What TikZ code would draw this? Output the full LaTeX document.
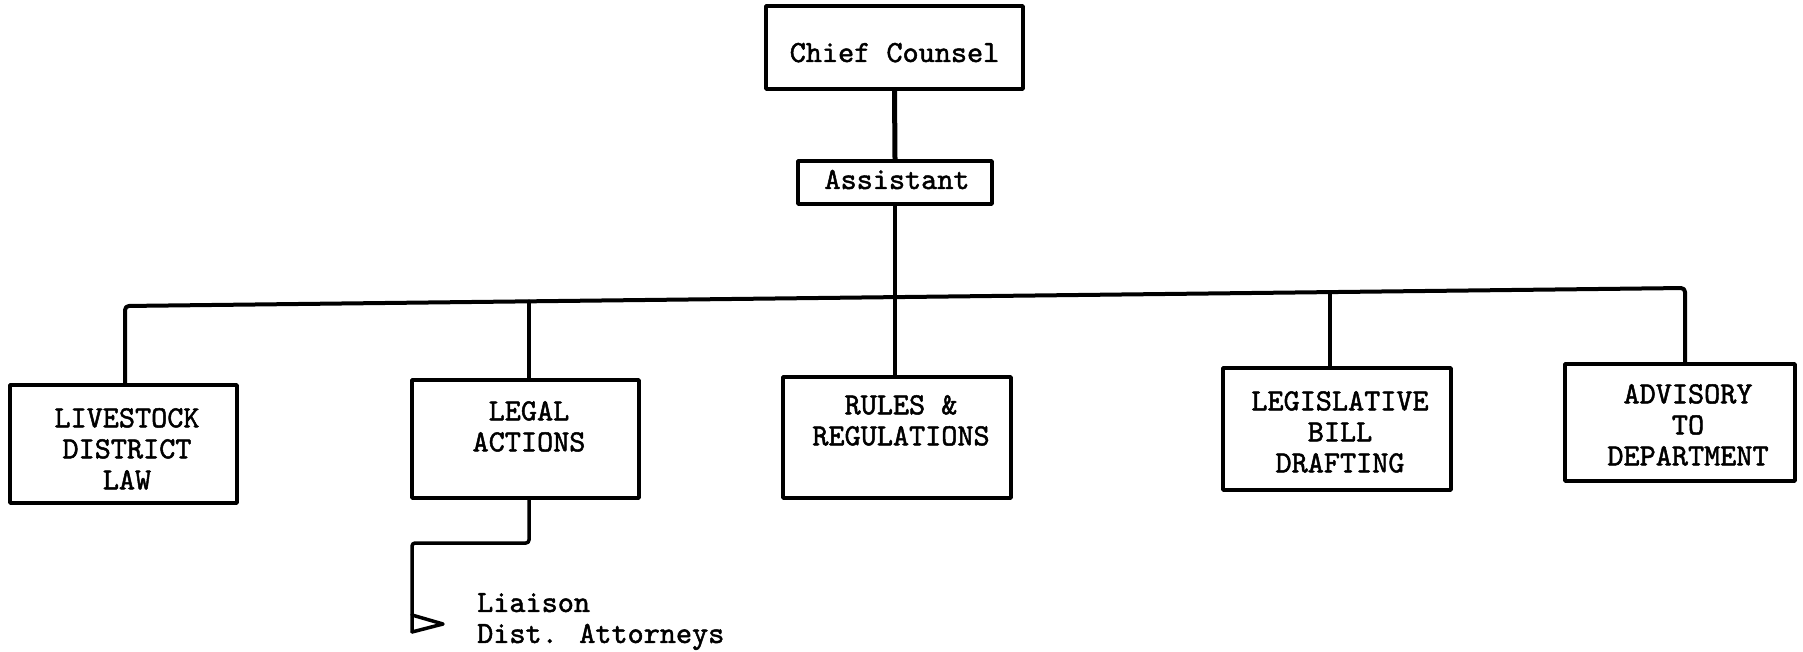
\documentclass[tikz,border=0pt]{standalone}
\usepackage{fontspec}
\newfontfamily\typewriter{lmmono10-regular.otf}[FakeBold=1.6]
\usetikzlibrary{calc}
\begin{document}
\begin{tikzpicture}[x=1pt,y=-1pt,
  box/.style={draw, line width=3.5pt, inner sep=0pt, line join=round},
  lbl/.style={inner sep=0pt, align=center,
    font=\fontsize{30.7}{31}\selectfont\typewriter},
  wire/.style={line width=4pt, line join=round, line cap=round},
  thinwire/.style={line width=3.5pt, line cap=round}]
\useasboundingbox (0,0) rectangle (1803,652);

% top of the chart
\node[box, minimum width=257pt, minimum height=83pt] (chief) at (894.5,47.5) {};
\node[lbl, anchor=base] (chief-t) at (894.5,62) {Chief Counsel};
\node[box, minimum width=194pt, minimum height=43pt] (asst) at (895,182.5) {};
\node[lbl, anchor=base] (asst-t) at (897,189) {Assistant};

% the five sections
\node[box, minimum width=227pt, minimum height=118pt] (lsd) at (123.5,444) {};
\node[lbl, anchor=north] (lsd-t) at (127,408) {LIVESTOCK\\DISTRICT\\LAW};
\node[box, minimum width=227pt, minimum height=118pt] (legal) at (525.5,439) {};
\node[lbl, anchor=north] (legal-t) at (529,401) {LEGAL\\ACTIONS};
\node[box, minimum width=228pt, minimum height=121pt] (rules) at (897,437.5) {};
\node[lbl, anchor=north] (rules-t) at (901,395) {RULES \&\\REGULATIONS};
\node[box, minimum width=228pt, minimum height=122pt] (legis) at (1337,429) {};
\node[lbl, anchor=north] (legis-t) at (1340,391) {LEGISLATIVE\\BILL\\DRAFTING};
\node[box, minimum width=230pt, minimum height=117pt] (adv) at (1680,422.5) {};
\node[lbl, anchor=north] (adv-t) at (1688,384) {ADVISORY\\TO\\DEPARTMENT};

% liaison note under legal actions
\node[lbl, align=left, anchor=north west] (liaison) at (477,593) {Liaison\\Dist. Attorneys};

% chain of command
\draw[wire, line width=5pt] (chief.south) -- (asst.north);
\draw[wire, line width=4.5pt] (asst.south) -- (asst.south |- rules.north);

% horizontal bus to the sections
\coordinate (busL) at (125,306);
\coordinate (busR) at (1685,288);
\coordinate (busLegal) at (529,301.3);
\coordinate (busLegis) at (1330,292.1);
\draw[wire, rounded corners=4pt] (busL |- lsd.north) -- (busL) -- (busR) -- (busR |- adv.north);
\draw[thinwire] (busLegal) -- (busLegal |- legal.north);
\draw[thinwire] (busLegis) -- (busLegis |- legis.north);

% legal actions down to the liaison flag
\coordinate (bendA) at (529,543);
\coordinate (bendB) at (412,543);
\coordinate (flagTop) at (412,615);
\coordinate (flagTip) at (443,624);
\coordinate (flagEnd) at (412,632);
\draw[wire, line width=3.5pt, rounded corners=3pt] (legal.south -| bendA) -- (bendA) -- (bendB) -- (flagEnd);
\draw[wire, line width=3.5pt] (flagEnd) -- (flagTip) -- (flagTop);
\end{tikzpicture}
\end{document}
